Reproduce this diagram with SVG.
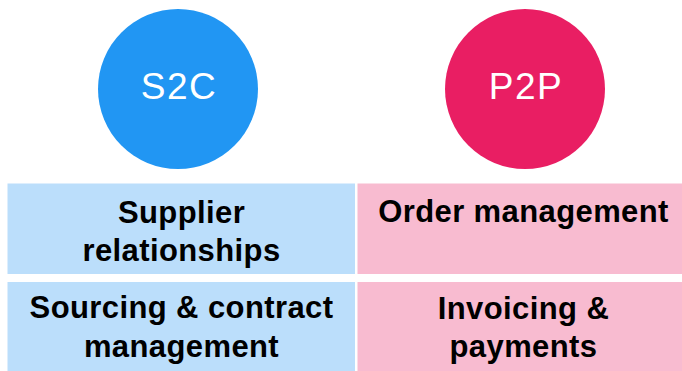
<svg xmlns="http://www.w3.org/2000/svg" width="682" height="371" viewBox="0 0 682 371">
<style>
.circ{font-family:"Liberation Sans",Arial,sans-serif;font-size:37px;fill:#ffffff;text-anchor:middle;letter-spacing:1.5px}
.lbl{font-family:"Liberation Sans",Arial,sans-serif;font-size:31px;font-weight:bold;fill:#000000;text-anchor:middle;letter-spacing:0.4px}
.s2c{fill:#BBDEFB}
.p2p{fill:#F8BBD0}
</style>
<rect width="682" height="371" fill="#ffffff"/>
<g id="node-s2c">
<circle cx="178" cy="89" r="80" fill="#2196F3"/>
<text class="circ" x="179" y="99">S2C</text>
</g>
<g id="node-p2p">
<circle cx="525" cy="89" r="80" fill="#E91E63"/>
<text class="circ" x="526" y="99">P2P</text>
</g>
<g id="node-supplier">
<rect class="s2c" x="7.5" y="183.5" width="347.5" height="90.5"/>
<text class="lbl" x="181.5" y="223">Supplier</text>
<text class="lbl" x="181.5" y="261">relationships</text>
</g>
<g id="node-sourcing">
<rect class="s2c" x="7.5" y="282" width="347.5" height="89"/>
<text class="lbl" x="181.5" y="318">Sourcing &amp; contract</text>
<text class="lbl" x="181.5" y="357">management</text>
</g>
<g id="node-order">
<rect class="p2p" x="357.5" y="183.5" width="324.5" height="90.5"/>
<text class="lbl" x="523.5" y="222">Order management</text>
</g>
<g id="node-invoicing">
<rect class="p2p" x="357.5" y="282" width="324.5" height="89"/>
<text class="lbl" x="523.5" y="319">Invoicing &amp;</text>
<text class="lbl" x="523.5" y="357">payments</text>
</g>
<g id="connectors"></g>
</svg>
